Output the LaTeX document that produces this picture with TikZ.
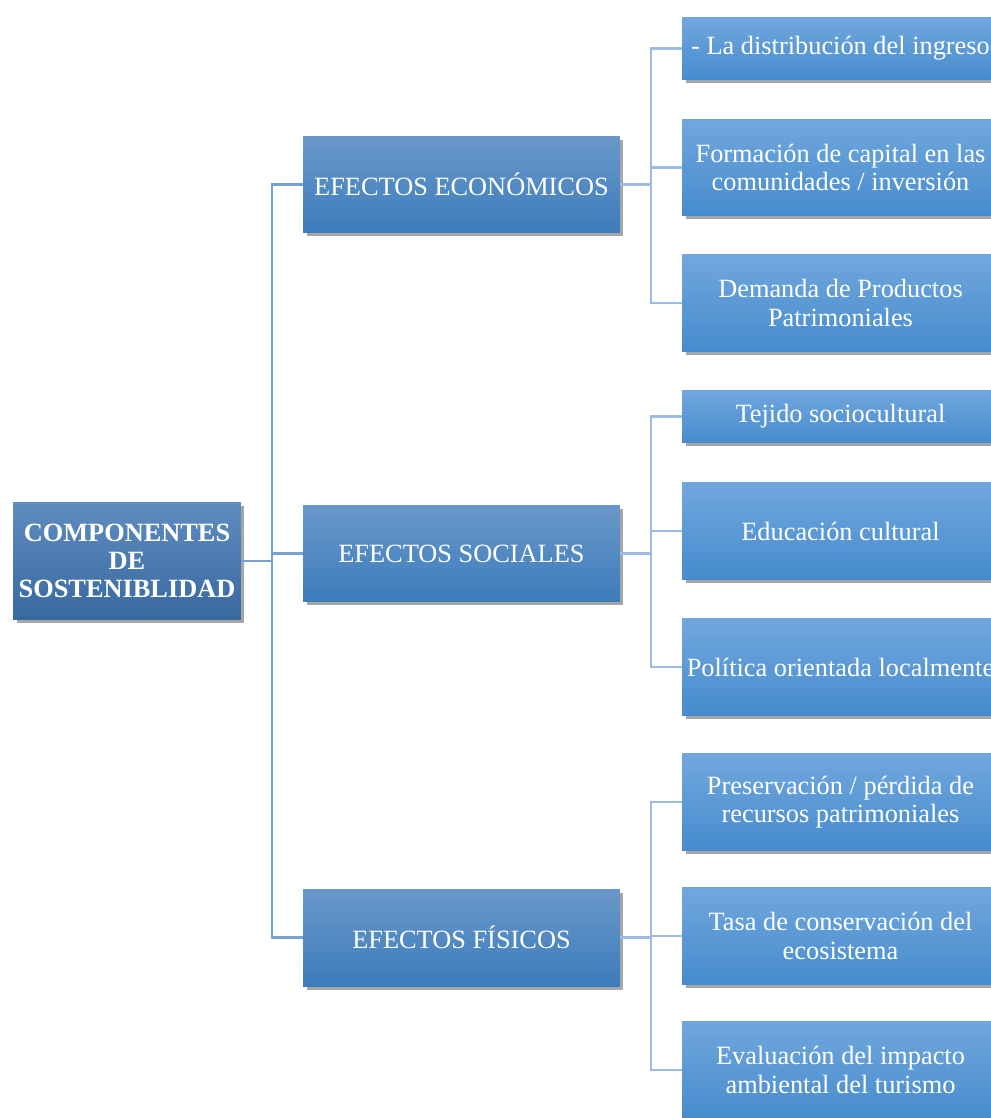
\documentclass[tikz,border=0pt]{standalone}
\usepackage{fontspec}
\setmainfont{Liberation Serif}
\usepackage{tikz}
\usetikzlibrary{shadows}
\definecolor{rootTop}{RGB}{96,141,192}
\definecolor{rootBot}{RGB}{55,104,160}
\definecolor{midTop}{RGB}{106,152,203}
\definecolor{midBot}{RGB}{60,124,186}
\definecolor{leafTop}{RGB}{113,167,221}
\definecolor{leafBot}{RGB}{70,140,205}
\definecolor{linkA}{RGB}{118,163,214}
\definecolor{linkB}{RGB}{155,188,228}

\begin{document}
\begin{tikzpicture}[x=0.02cm,y=-0.02cm]
\tikzstyle{every node}=[font=\fontsize{15}{16}\selectfont, text=white, align=center]
\tikzstyle{boxbase}=[rectangle, inner xsep=2pt, shading=axis,
  drop shadow={shadow xshift=0.07cm, shadow yshift=-0.07cm, fill=black, opacity=0.35}]
\tikzstyle{rootbox}=[boxbase, top color=rootTop, bottom color=rootBot,
  minimum width=4.56cm, minimum height=2.36cm, font=\fontsize{15}{16}\selectfont\bfseries]
\tikzstyle{midbox}=[boxbase, top color=midTop, bottom color=midBot,
  minimum width=6.34cm, minimum height=1.94cm]
\tikzstyle{leafbox}=[boxbase, top color=leafTop, bottom color=leafBot,
  minimum width=6.34cm, minimum height=1.94cm]
\tikzstyle{linkmain}=[linkA, line width=1.3pt]
\tikzstyle{linksub}=[linkB, line width=1.3pt]
\useasboundingbox (0,0) rectangle (990,1118);

\coordinate (hubR) at (272,561);
\coordinate (hubE) at (651,184.5);
\coordinate (hubS) at (651,553.5);
\coordinate (hubF) at (651,937.5);

% root
\node [rootbox] (root) at (127,561) {COMPONENTES\\DE\\SOSTENIBLIDAD};

% level 1
\node [midbox] (econ) at (461.5,184.5) {EFECTOS ECONÓMICOS};
\node [midbox] (soc) at (461.5,553.5) {EFECTOS SOCIALES};
\node [midbox] (fis) at (461.5,937.5) {EFECTOS FÍSICOS};

% level 2
\node [leafbox, minimum height=1.26cm] (ingreso) at (840.5,48.5) {- La distribución del ingreso};
\node [leafbox] (capital) at (840.5,167.5) {Formación de capital en las\\comunidades / inversión};
\node [leafbox] (demanda) at (840.5,303) {Demanda de Productos\\Patrimoniales};
\node [leafbox, minimum height=1.06cm] (tejido) at (840.5,416.5) {Tejido sociocultural};
\node [leafbox] (educ) at (840.5,531) {Educación cultural};
\node [leafbox] (politica) at (840.5,667) {Política orientada localmente};
\node [leafbox] (preserv) at (840.5,802) {Preservación / pérdida de\\recursos patrimoniales};
\node [leafbox] (tasa) at (840.5,936) {Tasa de conservación del\\ecosistema};
\node [leafbox] (evalua) at (840.5,1070) {Evaluación del impacto\\ambiental del turismo};

% connectors
\draw [linkmain] (root.east) -- (hubR);
\draw [linkmain] (hubR) |- (econ.west);
\draw [linkmain] (hubR) |- (soc.west);
\draw [linkmain] (hubR) |- (fis.west);
\draw [linksub] (econ.east) -- (hubE);
\draw [linksub] (hubE) |- (ingreso.west);
\draw [linksub] (hubE) |- (capital.west);
\draw [linksub] (hubE) |- (demanda.west);
\draw [linksub] (soc.east) -- (hubS);
\draw [linksub] (hubS) |- (tejido.west);
\draw [linksub] (hubS) |- (educ.west);
\draw [linksub] (hubS) |- (politica.west);
\draw [linksub] (fis.east) -- (hubF);
\draw [linksub] (hubF) |- (preserv.west);
\draw [linksub] (hubF) |- (tasa.west);
\draw [linksub] (hubF) |- (evalua.west);
\end{tikzpicture}
\end{document}
